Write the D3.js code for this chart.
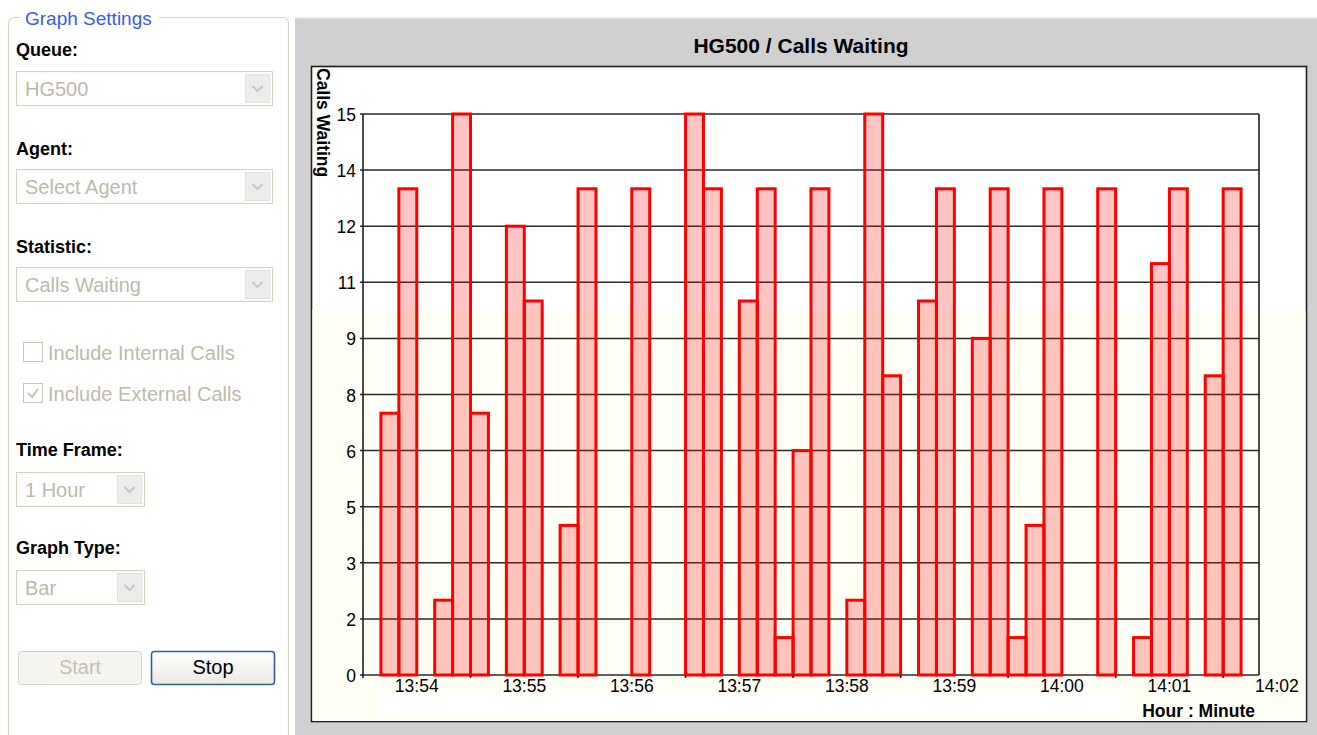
<!DOCTYPE html>
<html>
<head>
<meta charset="utf-8">
<script src="https://cdn.jsdelivr.net/npm/d3@7"></script>
<style>
  html, body { margin: 0; padding: 0; background: #ffffff; }
  svg { display: block; }
  text { font-family: "Liberation Sans", Arial, sans-serif; }
</style>
</head>
<body>
<svg id="screen" width="1317" height="735"></svg>
<script>
// ---- data -------------------------------------------------------------
const queueName = "HG500";
const statisticName = "Calls Waiting";

// 10-second samples (start time of each sample)
const sampleTimes = [
  "13:53:40", "13:53:50", "13:54:10", "13:54:20", "13:54:30", "13:54:50",
  "13:55:00", "13:55:20", "13:55:30", "13:56:00", "13:56:30", "13:56:40",
  "13:57:00", "13:57:10", "13:57:20", "13:57:30", "13:57:40", "13:58:00",
  "13:58:10", "13:58:20", "13:58:40", "13:58:50", "13:59:10", "13:59:20",
  "13:59:30", "13:59:40", "13:59:50", "14:00:20", "14:00:40", "14:00:50",
  "14:01:00", "14:01:20", "14:01:30"
];
const callsWaiting = [
  7, 13, 2, 15, 7, 12,
  10, 4, 13, 13, 15, 13,
  10, 13, 1, 6, 13, 2,
  15, 8, 10, 13, 9, 13,
  1, 4, 13, 13, 1, 11,
  13, 8, 13
];
const sampleSeconds = 10;
const timeDomain = ["13:53:30", "14:01:50"];

const xTickLabels = ["13:54", "13:55", "13:56", "13:57", "13:58", "13:59", "14:00", "14:01", "14:02"];
const yTickValues = [0, 1.5, 3, 4.5, 6, 7.5, 9, 10.5, 12, 13.5, 15];

// form controls of the settings panel
const fieldLabels = ["Queue:", "Agent:", "Statistic:", "Time Frame:", "Graph Type:"];
const selectValues = ["HG500", "Select Agent", "Calls Waiting", "1 Hour", "Bar"];
const checkLabels = ["Include Internal Calls", "Include External Calls"];
const checkStates = [false, true];
const buttonLabels = ["Start", "Stop"];

// ---- setup ------------------------------------------------------------
const svg = d3.select("#screen");
const parseHMS = d3.timeParse("%H:%M:%S");
const parseHM = d3.timeParse("%H:%M");

const plot = { left: 363, right: 1259, top: 114, bottom: 675 };

const x = d3.scaleTime()
  .domain(timeDomain.map(parseHMS))
  .range([plot.left, plot.right]);
const y = d3.scaleLinear()
  .domain([0, 15])
  .range([plot.bottom, plot.top]);

const defs = svg.append("defs");
const grad = defs.append("linearGradient").attr("id", "btnGrad")
  .attr("x1", 0).attr("y1", 0).attr("x2", 0).attr("y2", 1);
grad.append("stop").attr("offset", "0%").attr("stop-color", "#ffffff");
grad.append("stop").attr("offset", "100%").attr("stop-color", "#e9e8e2");

// ---- settings panel ---------------------------------------------------
const panel = svg.append("g").attr("class", "settings");
panel.append("path")
  .attr("d", "M8.5,760 L8.5,24 Q8.5,17.5 15,17.5 L282,17.5 Q288.5,17.5 288.5,24 L288.5,760")
  .attr("fill", "none").attr("stroke", "#d8d4c4").attr("stroke-width", 1.2);
panel.append("rect").attr("x", 20).attr("y", 8).attr("width", 139).attr("height", 20).attr("fill", "#ffffff");
panel.append("text").attr("x", 25).attr("y", 25)
  .attr("font-size", 19).attr("fill", "#3a5bf0").text("Graph Settings");

const labelY = [56, 155, 253, 456, 554];
const selectBoxes = [
  { y: 71, w: 256 }, { y: 169, w: 256 }, { y: 267, w: 256 }, { y: 472, w: 128 }, { y: 570, w: 128 }
];

fieldLabels.forEach((t, i) => {
  panel.append("text").attr("x", 16).attr("y", labelY[i])
    .attr("font-size", 18).attr("font-weight", "bold").attr("fill", "#000").text(t);
});

selectValues.forEach((t, i) => {
  const b = selectBoxes[i];
  const g = panel.append("g");
  g.append("rect").attr("x", 16.5).attr("y", b.y + 0.5).attr("width", b.w).attr("height", 34)
    .attr("fill", "#fbfbf8").attr("stroke", "#d6d2c2");
  g.append("rect").attr("x", 18.5).attr("y", b.y + 2.5).attr("width", b.w - 4).attr("height", 30)
    .attr("fill", "#ffffff");
  const bx = 16.5 + b.w - 27;
  g.append("rect").attr("x", bx).attr("y", b.y + 3.5).attr("width", 24).attr("height", 28)
    .attr("fill", "#ececea").attr("stroke", "#e2e1dc");
  g.append("path")
    .attr("d", `M${bx + 7},${b.y + 15} L${bx + 12},${b.y + 20} L${bx + 17},${b.y + 15}`)
    .attr("fill", "none").attr("stroke", "#c6c6c6").attr("stroke-width", 2);
  g.append("text").attr("x", 25).attr("y", b.y + 25)
    .attr("font-size", 20).attr("fill", "#bdb9ab").text(t);
});

const checkY = [342, 383];
checkLabels.forEach((t, i) => {
  panel.append("rect").attr("x", 23.5).attr("y", checkY[i] + 0.5).attr("width", 19).attr("height", 19)
    .attr("fill", "#ffffff").attr("stroke", "#cbc7ba");
  if (checkStates[i]) {
    panel.append("path")
      .attr("d", `M28,${checkY[i] + 10} L32,${checkY[i] + 14} L38,${checkY[i] + 6}`)
      .attr("fill", "none").attr("stroke", "#c4c2bc").attr("stroke-width", 2);
  }
  panel.append("text").attr("x", 48).attr("y", checkY[i] + 18)
    .attr("font-size", 20).attr("fill", "#bdb9ab").text(t);
});

const buttons = [
  { x: 18.5, fill: "#f5f4ef", stroke: "#d7d3c7", color: "#c3c0b4", sw: 1 },
  { x: 151.5, fill: "url(#btnGrad)", stroke: "#33608f", color: "#000000", sw: 1.6 }
];
buttonLabels.forEach((t, i) => {
  const b = buttons[i];
  panel.append("rect").attr("x", b.x).attr("y", 651.5).attr("width", 123).attr("height", 33).attr("rx", 3)
    .attr("fill", b.fill).attr("stroke", b.stroke).attr("stroke-width", b.sw);
  panel.append("text").attr("x", b.x + 61.5).attr("y", 674).attr("text-anchor", "middle")
    .attr("font-size", 20).attr("fill", b.color).text(t);
});

// ---- chart frame ------------------------------------------------------
svg.append("rect").attr("x", 295).attr("y", 18).attr("width", 1022).attr("height", 717).attr("fill", "#d0d0d0");
svg.append("rect").attr("x", 295).attr("y", 17).attr("width", 1022).attr("height", 1.5).attr("fill", "#ebebeb");

svg.append("text").attr("x", 801).attr("y", 53).attr("text-anchor", "middle")
  .attr("font-size", 21).attr("font-weight", "bold").attr("fill", "#000")
  .text(`${queueName} / ${statisticName}`);

svg.append("rect").attr("x", 311.5).attr("y", 66.5).attr("width", 995).attr("height", 655)
  .attr("fill", "#ffffff").attr("stroke", "#1e1e1e").attr("stroke-width", 1.6);
svg.append("rect").attr("x", 312.5).attr("y", 310).attr("width", 993).attr("height", 411)
  .attr("fill", "#fffff5");
svg.append("rect").attr("x", 378).attr("y", 693).attr("width", 743).attr("height", 22)
  .attr("fill", "#ffffff");

// ---- grid and axes ----------------------------------------------------
const grid = svg.append("g").attr("class", "grid");
grid.selectAll("line").data(yTickValues).join("line")
  .attr("x1", plot.left - 3).attr("x2", plot.right)
  .attr("y1", d => y(d)).attr("y2", d => y(d))
  .attr("stroke", "#2a2a2a").attr("stroke-width", 1.5);

svg.append("line").attr("x1", plot.left).attr("x2", plot.left)
  .attr("y1", plot.top).attr("y2", plot.bottom)
  .attr("stroke", "#1e1e1e").attr("stroke-width", 1.6);
svg.append("line").attr("x1", plot.right).attr("x2", plot.right)
  .attr("y1", plot.top).attr("y2", plot.bottom)
  .attr("stroke", "#1e1e1e").attr("stroke-width", 1.6);

svg.append("g").selectAll("text").data(yTickValues).join("text")
  .attr("x", 356).attr("y", d => y(d) + 7)
  .attr("text-anchor", "end").attr("font-size", 17.5).attr("fill", "#000")
  .text(d => Math.round(d));

// ---- bars -------------------------------------------------------------
const samples = sampleTimes.map((t, i) => ({ t: parseHMS(t), v: callsWaiting[i] }));
svg.append("g").attr("class", "bars").selectAll("rect").data(samples).join("rect")
  .attr("x", d => x(d.t))
  .attr("width", d => x(d3.timeSecond.offset(d.t, sampleSeconds)) - x(d.t))
  .attr("y", d => y(d.v))
  .attr("height", d => y(0) - y(d.v))
  .attr("fill", "#ff0000").attr("fill-opacity", 0.23)
  .attr("stroke", "#ff0000").attr("stroke-width", 3);

// ---- x axis labels and half-minute marks --------------------------------
const minutes = xTickLabels.map(parseHM);
svg.append("g").selectAll("line").data(minutes).join("line")
  .attr("x1", d => x(d3.timeSecond.offset(d, -30))).attr("x2", d => x(d3.timeSecond.offset(d, -30)))
  .attr("y1", plot.bottom).attr("y2", plot.bottom + 3)
  .attr("stroke", "#1e1e1e").attr("stroke-width", 1.6);
svg.append("g").selectAll("text").data(minutes).join("text")
  .attr("x", d => x(d)).attr("y", 692)
  .attr("text-anchor", "middle").attr("font-size", 17.5).attr("fill", "#000")
  .text((d, i) => xTickLabels[i]);

// ---- axis titles ------------------------------------------------------
svg.append("text").attr("transform", "translate(317,68) rotate(90)")
  .attr("font-size", 17.5).attr("font-weight", "bold").attr("fill", "#000")
  .text(statisticName);
svg.append("text").attr("x", 1255).attr("y", 717).attr("text-anchor", "end")
  .attr("font-size", 17.5).attr("font-weight", "bold").attr("fill", "#000")
  .text("Hour : Minute");
</script>
</body>
</html>
